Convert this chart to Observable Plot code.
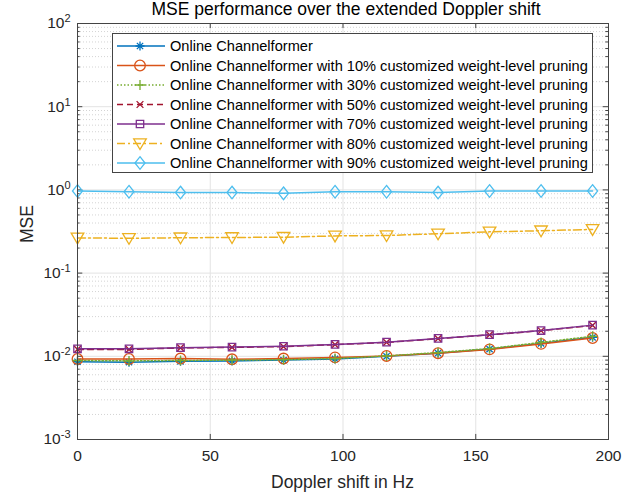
<!DOCTYPE html>
<html><head><meta charset="utf-8">
<script src="https://cdn.jsdelivr.net/npm/d3@7"></script>
<script src="https://cdn.jsdelivr.net/npm/@observablehq/plot@0.6"></script>
<style>
html,body{margin:0;padding:0;background:#fff;}
#chart{width:641px;height:496px;}
</style>
</head><body><div id="chart"></div>
<script>
// ---------- data ----------
const doppler = [0, 19.4, 38.8, 58.2, 77.6, 97, 116.4, 135.8, 155.2, 174.6, 194];
const seriesNames = [
  "Online Channelformer",
  "Online Channelformer with 10% customized weight-level pruning",
  "Online Channelformer with 30% customized weight-level pruning",
  "Online Channelformer with 50% customized weight-level pruning",
  "Online Channelformer with 70% customized weight-level pruning",
  "Online Channelformer with 80% customized weight-level pruning",
  "Online Channelformer with 90% customized weight-level pruning"
];
const mseOnline = [0.0086, 0.0085, 0.0087, 0.0088, 0.0090, 0.0093, 0.0100, 0.0109, 0.0122, 0.0143, 0.0169];
const msePrune10 = [0.0093, 0.0093, 0.0094, 0.0092, 0.0094, 0.0097, 0.0101, 0.0109, 0.0121, 0.0141, 0.0166];
const msePrune30 = [0.0089, 0.0088, 0.0089, 0.0090, 0.0091, 0.0094, 0.0101, 0.0111, 0.0124, 0.0147, 0.0174];
const msePrune50 = [0.0121, 0.0121, 0.0126, 0.0128, 0.0131, 0.0138, 0.0147, 0.0163, 0.0181, 0.0203, 0.0235];
const msePrune70 = [0.0123, 0.0123, 0.0127, 0.0129, 0.0132, 0.0139, 0.0148, 0.0164, 0.0182, 0.0204, 0.0237];
const msePrune80 = [0.265, 0.262, 0.266, 0.268, 0.270, 0.280, 0.283, 0.297, 0.313, 0.323, 0.335];
const msePrune90 = [0.97, 0.95, 0.93, 0.93, 0.91, 0.95, 0.95, 0.93, 0.97, 0.97, 0.97];
const xTicks = [0, 50, 100, 150, 200];
const yTickValues = [1e-3, 1e-2, 1e-1, 1e0, 1e1, 1e2];
const titleText = "MSE performance over the extended Doppler shift";
const xLabelText = "Doppler shift in Hz";
const yLabelText = "MSE";

// ---------- styles ----------
function lines(segs) {
  return {draw(ctx, size) {
    const r = Math.sqrt(size / Math.PI);
    for (const [a, b, c, d] of segs) { ctx.moveTo(a * r, b * r); ctx.lineTo(c * r, d * r); }
  }};
}
const symAsterisk = lines([[-1,0,1,0],[0,-1,0,1],[-0.7,-0.7,0.7,0.7],[-0.7,0.7,0.7,-0.7]]);
const symPlus = lines([[-1,0,1,0],[0,-1,0,1]]);
const symTimes = lines([[-0.75,-0.75,0.75,0.75],[-0.75,0.75,0.75,-0.75]]);
const symCircle = {draw(ctx, size){ const r = Math.sqrt(size/Math.PI); ctx.moveTo(r,0); ctx.arc(0,0,r,0,2*Math.PI); }};
const symSquare = {draw(ctx, size){ const r = Math.sqrt(size/Math.PI); ctx.rect(-r,-r,2*r,2*r); }};
const symTriDown = {draw(ctx, size){ const r = Math.sqrt(size/Math.PI); ctx.moveTo(-r,-0.75*r); ctx.lineTo(r,-0.75*r); ctx.lineTo(0,0.95*r); ctx.closePath(); }};
const symDiamond = {draw(ctx, size){ const r = Math.sqrt(size/Math.PI); ctx.moveTo(0,-r); ctx.lineTo(0.8*r,0); ctx.lineTo(0,r); ctx.lineTo(-0.8*r,0); ctx.closePath(); }};

const seriesValues = [mseOnline, msePrune10, msePrune30, msePrune50, msePrune70, msePrune80, msePrune90];
const styles = [
  {color: "#0072BD", dash: null, symbol: symAsterisk, r: 4.5},
  {color: "#D95319", dash: null, symbol: symCircle, r: 5.3},
  {color: "#77AC30", dash: "1.5,2", symbol: symPlus, r: 5},
  {color: "#A2142F", dash: "6,4", symbol: symTimes, r: 4.5},
  {color: "#7E2F8E", dash: null, symbol: symSquare, r: 3.7},
  {color: "#EDB120", dash: "8,3,2,3", symbol: symTriDown, r: 6.3},
  {color: "#4DBEEE", dash: null, symbol: symDiamond, r: 6.3}
];

const rows = [];
seriesValues.forEach((vals, s) => vals.forEach((v, i) => rows.push({s, x: doppler[i], y: v})));

// grid values
const minorY = [];
for (let e = -3; e < 2; e++) for (let m = 2; m <= 9; m++) minorY.push(m * Math.pow(10, e));
const majorYInner = yTickValues.slice(1, -1);
const xInner = xTicks.slice(1, -1);

const marks = [
  Plot.ruleY(minorY, {stroke: "#d4d4d4", strokeDasharray: "1,2", strokeWidth: 1}),
  Plot.ruleY(majorYInner, {stroke: "#e3e3e3", strokeWidth: 1}),
  Plot.ruleX(xInner, {stroke: "#e3e3e3", strokeWidth: 1}),
  // inward ticks
  Plot.ruleY(yTickValues, {x1: 0, x2: 2, stroke: "#444", strokeWidth: 1}),
  Plot.ruleY(yTickValues, {x1: 198, x2: 200, stroke: "#444", strokeWidth: 1}),
  Plot.ruleY(minorY, {x1: 0, x2: 1, stroke: "#444", strokeWidth: 1}),
  Plot.ruleY(minorY, {x1: 199, x2: 200, stroke: "#444", strokeWidth: 1}),
  Plot.ruleX(xTicks, {y1: 1e-3, y2: 1.15e-3, stroke: "#444", strokeWidth: 1}),
  Plot.ruleX(xTicks, {y1: 100 / 1.15, y2: 100, stroke: "#444", strokeWidth: 1})
];
styles.forEach((st, s) => {
  const data = rows.filter(d => d.s === s);
  marks.push(Plot.line(data, {x: "x", y: "y", stroke: st.color, strokeWidth: 1.5, strokeDasharray: st.dash || undefined}));
  marks.push(Plot.dot(data, {x: "x", y: "y", symbol: () => st.symbol, r: st.r, stroke: st.color, fill: "none", strokeWidth: 1.3}));
});
marks.push(Plot.frame({stroke: "#444", strokeWidth: 1}));

const chart = Plot.plot({
  width: 641,
  height: 496,
  marginLeft: 77,
  marginRight: 33,
  marginTop: 23,
  marginBottom: 57,
  style: {fontFamily: "'Liberation Sans', Arial, sans-serif", fontSize: "15.5px", color: "#262626", background: "#fff"},
  x: {domain: [0, 200], ticks: xTicks, tickSize: 0, tickPadding: 10, label: null, tickFormat: d => String(d)},
  y: {type: "log", domain: [1e-3, 1e2], ticks: yTickValues, tickSize: 0, tickPadding: 7, label: null,
      tickFormat: d => String(Math.round(Math.log10(d)))},
  symbol: {type: "identity"},
  marks
});
document.getElementById("chart").appendChild(chart);

const svg = d3.select(chart);
// superscript tick labels
svg.selectAll('g[aria-label="y-axis tick label"] text').each(function() {
  const e = this.textContent;
  const t = d3.select(this);
  t.text(null).attr("fill", "#262626");
  t.append("tspan").text("10");
  t.append("tspan").attr("dy", "-0.55em").attr("font-size", "11px").text(e);
});
svg.selectAll('g[aria-label="x-axis tick label"] text').attr("fill", "#262626");

const font = "'Liberation Sans', Arial, sans-serif";
svg.append("text").attr("x", 346).attr("y", 15).attr("text-anchor", "middle")
  .attr("font-family", font).attr("font-size", 17.5).attr("fill", "#000").text(titleText);
svg.append("text").attr("x", 342.5).attr("y", 488).attr("text-anchor", "middle")
  .attr("font-family", font).attr("font-size", 17.5).attr("fill", "#262626").text(xLabelText);
svg.append("text").attr("transform", "translate(33,224) rotate(-90)").attr("text-anchor", "middle")
  .attr("font-family", font).attr("font-size", 17.5).attr("fill", "#262626").text(yLabelText);

// legend
const lg = svg.append("g").attr("aria-label", "legend").attr("text-anchor", "start");
lg.append("rect").attr("x", 112.5).attr("y", 33.5).attr("width", 480).attr("height", 139)
  .attr("fill", "#fff").attr("stroke", "#444").attr("stroke-width", 1);
styles.forEach((st, i) => {
  const y = 46 + i * 19.5;
  lg.append("line").attr("x1", 117).attr("x2", 165).attr("y1", y).attr("y2", y)
    .attr("stroke", st.color).attr("stroke-width", 1.5).attr("stroke-dasharray", st.dash || null);
  lg.append("path").attr("transform", `translate(140,${y})`)
    .attr("d", d3.symbol(st.symbol, st.r * st.r * Math.PI)())
    .attr("fill", "none").attr("stroke", st.color).attr("stroke-width", 1.3);
  lg.append("text").attr("x", 170).attr("y", y).attr("dy", "0.35em").attr("text-anchor", "start")
    .attr("font-family", font).attr("font-size", 14.6).attr("fill", "#000").text(seriesNames[i]);
});
</script>
</body></html>
